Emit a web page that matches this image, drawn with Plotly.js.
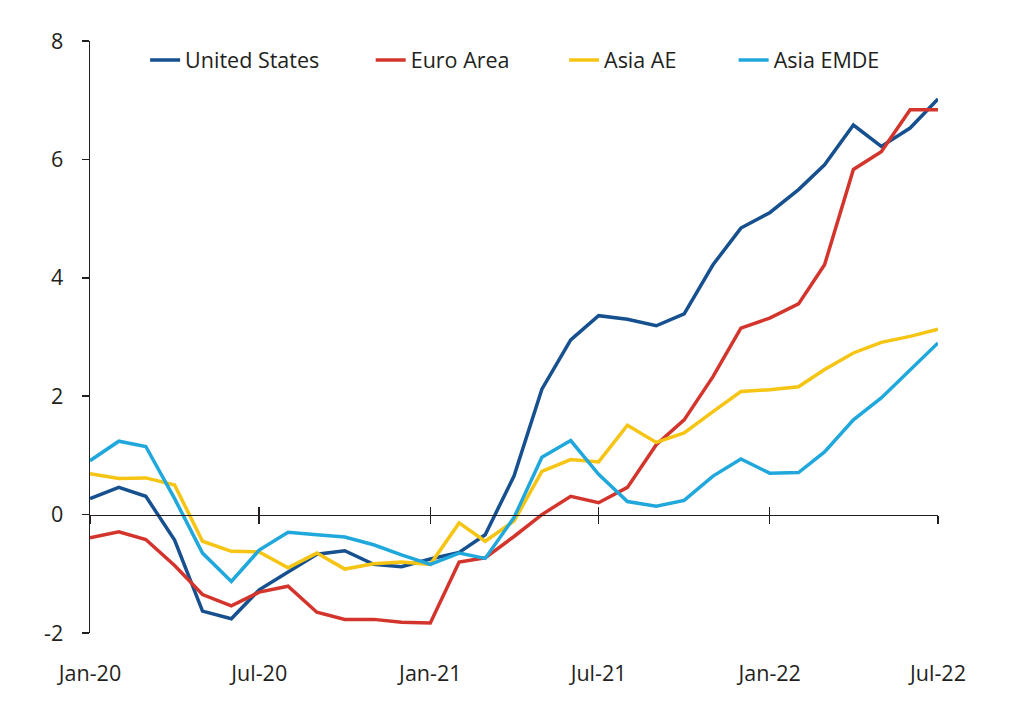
<!DOCTYPE html>
<html>
<head>
<meta charset="utf-8">
<script src="https://cdn.plot.ly/plotly-3.0.1.min.js"></script>
<style>
html, body { margin: 0; padding: 0; background: #fff; }
#chart { width: 1024px; height: 721px; }
</style>
</head>
<body>
<div id="chart"></div>
<script>
const months = [
  '2020-01-01','2020-02-01','2020-03-01','2020-04-01','2020-05-01','2020-06-01',
  '2020-07-01','2020-08-01','2020-09-01','2020-10-01','2020-11-01','2020-12-01',
  '2021-01-01','2021-02-01','2021-03-01','2021-04-01','2021-05-01','2021-06-01',
  '2021-07-01','2021-08-01','2021-09-01','2021-10-01','2021-11-01','2021-12-01',
  '2022-01-01','2022-02-01','2022-03-01','2022-04-01','2022-05-01','2022-06-01',
  '2022-07-01'
];
const unitedStates = [0.27, 0.46, 0.31, -0.43, -1.63, -1.76, -1.27, -0.97, -0.67, -0.61, -0.84, -0.88,
  -0.75, -0.64, -0.34, 0.65, 2.12, 2.95, 3.36, 3.30, 3.19, 3.39, 4.22, 4.84,
  5.10, 5.49, 5.91, 6.58, 6.22, 6.53, 7.02];
const euroArea = [-0.39, -0.29, -0.42, -0.86, -1.35, -1.54, -1.31, -1.21, -1.65, -1.77, -1.77, -1.82,
  -1.83, -0.80, -0.73, -0.37, 0.00, 0.31, 0.20, 0.46, 1.18, 1.60, 2.33, 3.15,
  3.32, 3.56, 4.22, 5.83, 6.13, 6.84, 6.84];
const asiaAE = [0.69, 0.61, 0.62, 0.50, -0.45, -0.62, -0.63, -0.90, -0.65, -0.92, -0.83, -0.80,
  -0.84, -0.14, -0.45, -0.11, 0.73, 0.93, 0.89, 1.51, 1.22, 1.38, 1.74, 2.08,
  2.11, 2.16, 2.45, 2.73, 2.91, 3.01, 3.13];
const asiaEMDE = [0.91, 1.24, 1.15, 0.27, -0.65, -1.13, -0.60, -0.30, -0.34, -0.38, -0.51, -0.68,
  -0.84, -0.65, -0.74, -0.05, 0.97, 1.25, 0.68, 0.22, 0.14, 0.24, 0.65, 0.94,
  0.70, 0.71, 1.06, 1.60, 1.97, 2.45, 2.90];
const seriesNames = ['United States', 'Euro Area', 'Asia AE', 'Asia EMDE'];
const xTickVals = ['2020-01-01','2020-07-01','2021-01-01','2021-07-01','2022-01-01','2022-07-01'];
const xTickText = ['Jan-20','Jul-20','Jan-21','Jul-21','Jan-22','Jul-22'];
const yTickVals = [-2, 0, 2, 4, 6, 8];
const yTickText = ['-2', '0', '2', '4', '6', '8'];

const colors = ['#16508f', '#d3352c', '#f6c413', '#20a8dd'];
const legendNames = ['legend', 'legend2', 'legend3', 'legend4'];
const seriesValues = [unitedStates, euroArea, asiaAE, asiaEMDE];

const FONT = 'Open Sans, Lato, sans-serif';
const TXT = '#231f20';
const FS = 21.5;

const traces = seriesValues.map((vals, i) => ({
  x: months, y: vals, type: 'scatter', mode: 'lines', name: seriesNames[i],
  line: { color: colors[i], width: 3.5 }, legend: legendNames[i],
  hoverinfo: 'x+y'
}));
// invisible helpers so the zero-line axes are drawn
traces.push({ x: months, y: unitedStates, xaxis: 'x2', yaxis: 'y', mode: 'lines',
  line: { width: 0 }, opacity: 0, showlegend: false, hoverinfo: 'skip' });
traces.push({ x: months, y: unitedStates, xaxis: 'x3', yaxis: 'y', mode: 'lines',
  line: { width: 0 }, opacity: 0, showlegend: false, hoverinfo: 'skip' });

const xRange = [months[0], months[months.length - 1]];
const legendXs = [0.065, 0.331, 0.559, 0.759];

const layout = {
  width: 1024, height: 721,
  margin: { l: 90, r: 86, t: 41, b: 88 },
  paper_bgcolor: '#fff', plot_bgcolor: '#fff',
  font: { family: FONT, size: FS, color: TXT },
  showlegend: true,
  xaxis: {
    type: 'date', range: xRange, tickvals: xTickVals, ticktext: xTickText,
    showgrid: false, zeroline: false, showline: false,
    ticks: 'outside', ticklen: 21, tickcolor: 'rgba(0,0,0,0)',
    tickfont: { family: FONT, size: FS, color: TXT }
  },
  xaxis2: {
    type: 'date', range: xRange, tickvals: xTickVals, overlaying: 'x',
    anchor: 'free', position: 0.2, showgrid: false, zeroline: false,
    showline: true, linecolor: '#231f20', linewidth: 1.5,
    ticks: 'outside', ticklen: 8, tickwidth: 1.5, tickcolor: '#231f20',
    showticklabels: false
  },
  xaxis3: {
    type: 'date', range: xRange, tickvals: xTickVals, overlaying: 'x',
    anchor: 'free', position: 0.2, showgrid: false, zeroline: false,
    showline: false,
    ticks: 'inside', ticklen: 8, tickwidth: 1.5, tickcolor: '#231f20',
    showticklabels: false
  },
  yaxis: {
    range: [-2, 8], tickvals: yTickVals, ticktext: yTickText,
    showgrid: false, zeroline: false,
    showline: true, linecolor: '#231f20', linewidth: 1.5,
    ticks: 'outside', ticklen: 7, tickwidth: 1.5, tickcolor: '#231f20',
    ticklabelstandoff: 14,
    tickfont: { family: FONT, size: FS, color: TXT }
  }
};
legendNames.forEach((ln, i) => {
  layout[ln] = {
    x: legendXs[i], y: 0.968, xanchor: 'left', yanchor: 'middle',
    orientation: 'h', bgcolor: 'rgba(0,0,0,0)', borderwidth: 0,
    font: { family: FONT, size: FS, color: TXT }, itemwidth: 30
  };
});

Plotly.newPlot('chart', traces, layout, { displayModeBar: false, staticPlot: true });
</script>
</body>
</html>
